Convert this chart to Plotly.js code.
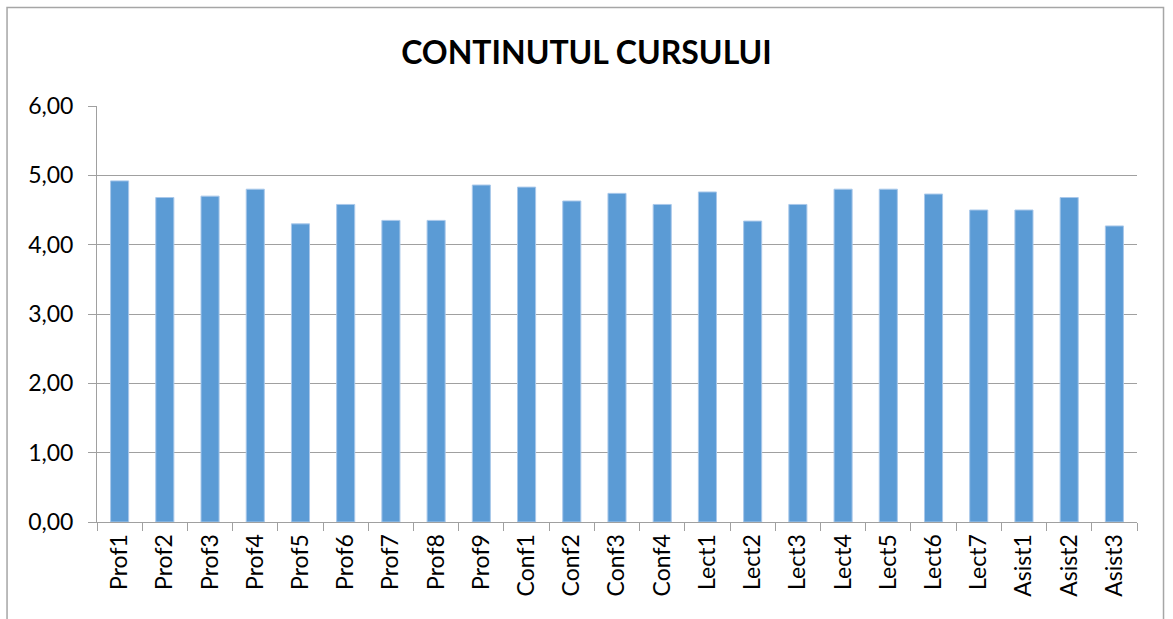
<!DOCTYPE html>
<html>
<head>
<meta charset="utf-8">
<script src="https://cdn.plot.ly/plotly-3.0.1.min.js"></script>
<style>html,body{margin:0;padding:0;background:#fff;}#chart{width:1173px;height:619px;}</style>
</head>
<body>
<div id="chart"></div>
<script>
const categories = ["Prof1","Prof2","Prof3","Prof4","Prof5","Prof6","Prof7","Prof8","Prof9",
  "Conf1","Conf2","Conf3","Conf4",
  "Lect1","Lect2","Lect3","Lect4","Lect5","Lect6","Lect7",
  "Asist1","Asist2","Asist3"];
const values = [4.92,4.68,4.70,4.80,4.30,4.58,4.35,4.35,4.86,
  4.83,4.63,4.74,4.58,
  4.76,4.34,4.58,4.80,4.80,4.73,4.50,
  4.50,4.68,4.27];
const yTicks = [0,1,2,3,4,5,6];
const chartTitle = "CONTINUTUL CURSULUI";

const fontFam = "Lato, 'Open Sans', sans-serif";
const data = [{
  type: 'bar',
  x: categories,
  y: values,
  marker: {color: '#5b9bd5', line: {color: '#a9c8ea', width: 1}},
  hoverinfo: 'x+y'
}];
const layout = {
  width: 1173, height: 619,
  margin: {l: 97, r: 36, t: 106, b: 97},
  paper_bgcolor: '#ffffff', plot_bgcolor: '#ffffff',
  separators: ', ',
  bargap: 0.6,
  showlegend: false,
  title: {text: '<b>' + chartTitle + '</b>', font: {family: fontFam, size: 32, color: '#000'}, x: 0.5, xanchor: 'center', y: 0.915, yanchor: 'middle'},
  xaxis: {
    type: 'category',
    tickangle: -90,
    tickfont: {family: fontFam, size: 23, color: '#000'},
    showline: true, linecolor: '#a0a0a0', linewidth: 1,
    ticks: 'outside', tickson: 'boundaries', ticklen: 8, tickcolor: '#a0a0a0',
    ticklabelstandoff: 2,
    showgrid: false
  },
  yaxis: {
    range: [0, 6],
    tickvals: yTicks,
    tickformat: '.2f',
    tickfont: {family: fontFam, size: 23, color: '#000'},
    showline: true, linecolor: '#a0a0a0', linewidth: 1,
    ticks: 'outside', ticklen: 8, tickcolor: '#a0a0a0',
    ticklabelstandoff: 10,
    showgrid: true, gridcolor: '#a0a0a0', gridwidth: 1,
    zeroline: false
  },
  shapes: [{
    type: 'rect', xref: 'paper', yref: 'paper',
    x0: -0.0865, x1: 1.0255, y0: -0.6, y1: 1.237,
    line: {color: '#a6a6a6', width: 1.5}, fillcolor: 'rgba(0,0,0,0)', layer: 'below'
  }]
};
Plotly.newPlot('chart', data, layout, {displayModeBar: false, staticPlot: true});
</script>
</body>
</html>
